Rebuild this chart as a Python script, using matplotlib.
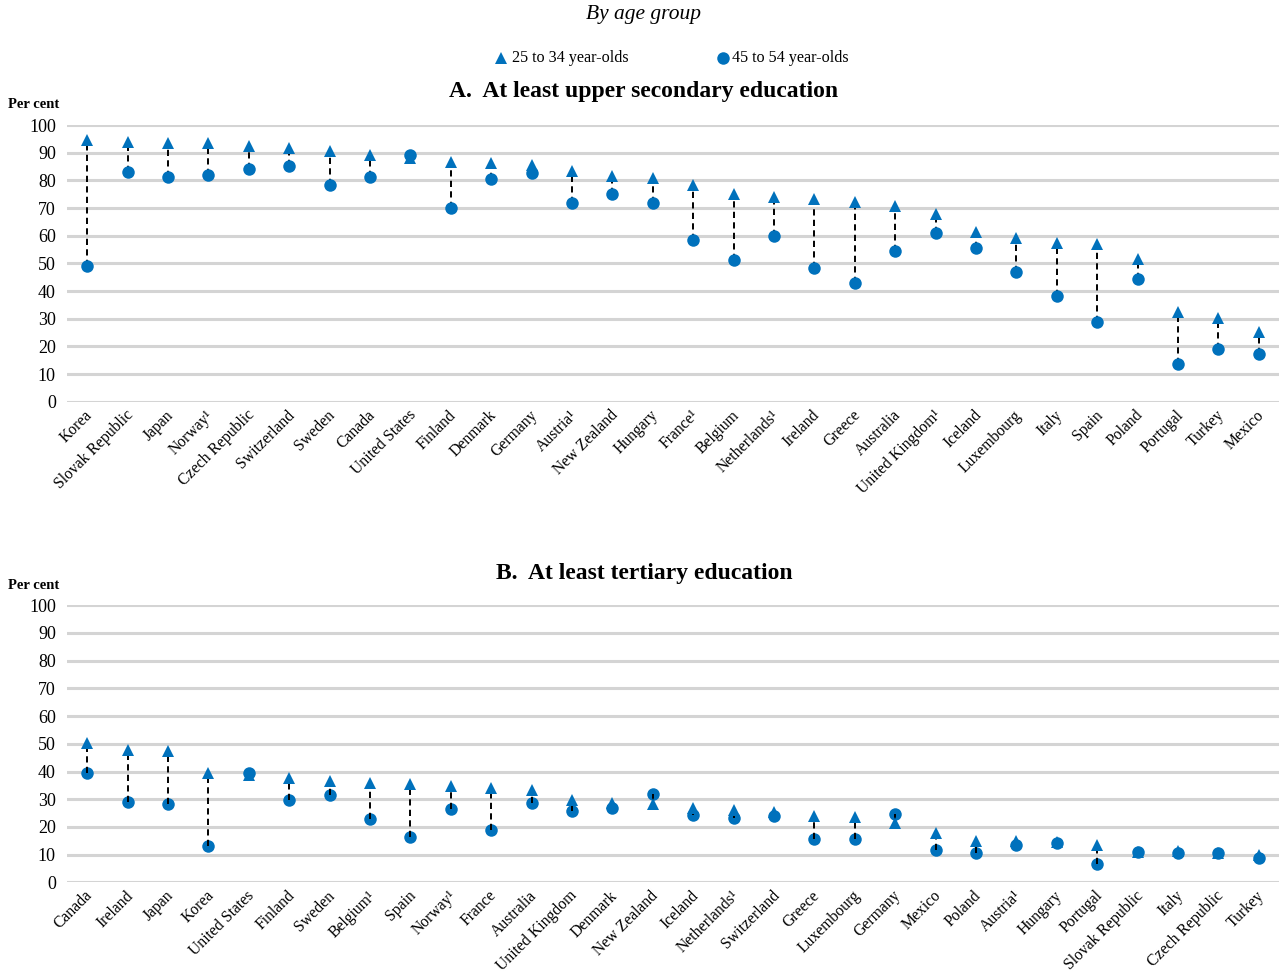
import matplotlib
matplotlib.use("Agg")
import matplotlib.pyplot as plt
from matplotlib.lines import Line2D
from matplotlib.transforms import ScaledTranslation

plt.rcParams['font.family'] = ['Liberation Serif', 'DejaVu Serif']

# Panel A: at least upper secondary education
countries_a = ["Korea", "Slovak Republic", "Japan", "Norway¹", "Czech Republic",
               "Switzerland", "Sweden", "Canada", "United States", "Finland",
               "Denmark", "Germany", "Austria¹", "New Zealand", "Hungary",
               "France¹", "Belgium", "Netherlands¹", "Ireland", "Greece",
               "Australia", "United Kingdom¹", "Iceland", "Luxembourg", "Italy",
               "Spain", "Poland", "Portugal", "Turkey", "Mexico"]
young_a = [94.6, 93.7, 93.6, 93.4, 92.5, 91.8, 90.6, 89.2, 88.0, 86.6,
           86.1, 85.4, 83.3, 81.4, 80.8, 78.2, 75.2, 73.9, 73.3, 72.3,
           70.7, 67.9, 61.2, 59.3, 57.5, 57.0, 51.6, 32.3, 30.1, 25.1]
older_a = [49.0, 83.0, 81.1, 81.8, 84.0, 85.3, 78.3, 81.1, 89.2, 70.1,
           80.4, 82.8, 71.9, 74.9, 71.7, 58.4, 51.2, 59.9, 48.3, 43.0,
           54.6, 61.1, 55.5, 47.0, 38.3, 28.9, 44.5, 13.5, 19.0, 17.3]

# Panel B: at least tertiary education
countries_b = ["Canada", "Ireland", "Japan", "Korea", "United States", "Finland",
               "Sweden", "Belgium¹", "Spain", "Norway¹", "France", "Australia",
               "United Kingdom", "Denmark", "New Zealand", "Iceland",
               "Netherlands¹", "Switzerland", "Greece", "Luxembourg", "Germany",
               "Mexico", "Poland", "Austria¹", "Hungary", "Portugal",
               "Slovak Republic", "Italy", "Czech Republic", "Turkey"]
young_b = [50.4, 47.7, 47.5, 39.3, 38.9, 37.8, 36.6, 35.9, 35.5, 34.7,
           33.9, 33.2, 29.6, 28.8, 28.3, 26.8, 26.0, 25.4, 23.9, 23.4,
           21.4, 17.8, 14.9, 14.9, 14.6, 13.5, 11.0, 11.2, 10.5, 9.8]
older_b = [39.4, 28.9, 28.2, 13.1, 39.6, 29.6, 31.5, 22.7, 16.2, 26.4,
           18.9, 28.8, 25.8, 27.0, 32.0, 24.2, 23.3, 24.0, 15.5, 15.5,
           24.7, 11.7, 10.7, 13.4, 14.3, 6.6, 11.1, 10.5, 10.7, 8.9]

yticks = list(range(0, 101, 10))

BLUE = "#0071BC"
GRID = "#D4D4D4"
W, H = 1281, 974
AX_LEFT, AX_RIGHT = 67, 1279

fig = plt.figure(figsize=(W / 100, H / 100), dpi=100)


def panel(bottom_px, top_px, names, young, older, title, title_y, lines_on_top):
    rect = [AX_LEFT / W, 1 - bottom_px / H, (AX_RIGHT - AX_LEFT) / W,
            (bottom_px - top_px) / H]
    ax = fig.add_axes(rect)
    xs = list(range(len(names)))
    ax.set_xlim(-0.5, len(names) - 0.5)
    ax.set_ylim(0, 100)
    ax.set_yticks(yticks)
    ax.set_yticklabels([str(t) for t in yticks], fontsize=13)
    for s in ax.spines.values():
        s.set_visible(False)
    ax.yaxis.grid(True, color=GRID, linewidth=2.2)
    ax.set_axisbelow(True)
    ax.tick_params(axis='y', length=0, pad=8)
    ax.tick_params(axis='x', length=0, pad=8)
    ax.set_xticks(xs)
    ax.set_xticklabels(names, rotation=45, ha='right', va='center',
                       rotation_mode='anchor', fontsize=11.3)
    shift = ScaledTranslation(3 / 100, 0, fig.dpi_scale_trans)
    for lab in ax.get_xticklabels():
        lab.set_transform(lab.get_transform() + shift)

    zline = 3 if lines_on_top else 1
    ax.vlines(xs, older, young, colors='black', linestyles=(0, (3.2, 2.2)),
              linewidth=1.4, zorder=zline)
    ax.plot(xs, older, linestyle='none', marker='o', markersize=9.0,
            color=BLUE, markeredgewidth=0, zorder=2, clip_on=False)
    ax.plot(xs, young, linestyle='none', marker='^', markersize=8.8,
            color=BLUE, markeredgewidth=0, zorder=4 if lines_on_top else 2,
            clip_on=False)

    fig.text(644 / W, 1 - title_y / H, title, ha='center', va='center',
             fontsize=17, fontweight='bold')
    fig.text(8 / W, 1 - (top_px - 20) / H, "Per cent", ha='left',
             va='center', fontsize=10.5, fontweight='bold')
    return ax


panel(401.7, 125, countries_a, young_a, older_a,
      "A.  At least upper secondary education", 92, False)
panel(882.3, 605.3, countries_b, young_b, older_b,
      "B.  At least tertiary education", 573, True)

# Subtitle and legend
fig.text(643 / W, 1 - 15 / H, "By age group", ha='center', va='center',
         fontsize=15.5, style='italic')
ly = 1 - 58 / H
fig.add_artist(Line2D([501 / W], [ly], transform=fig.transFigure,
                      marker='^', markersize=8.8, color=BLUE,
                      markeredgewidth=0, linestyle='none'))
fig.text(512 / W, ly, "25 to 34 year-olds", ha='left', va='center',
         fontsize=11.6)
fig.add_artist(Line2D([723 / W], [ly], transform=fig.transFigure,
                      marker='o', markersize=9.0, color=BLUE,
                      markeredgewidth=0, linestyle='none'))
fig.text(732 / W, ly, "45 to 54 year-olds", ha='left', va='center',
         fontsize=11.6)

fig.savefig("out.png", dpi=100, facecolor='white')
